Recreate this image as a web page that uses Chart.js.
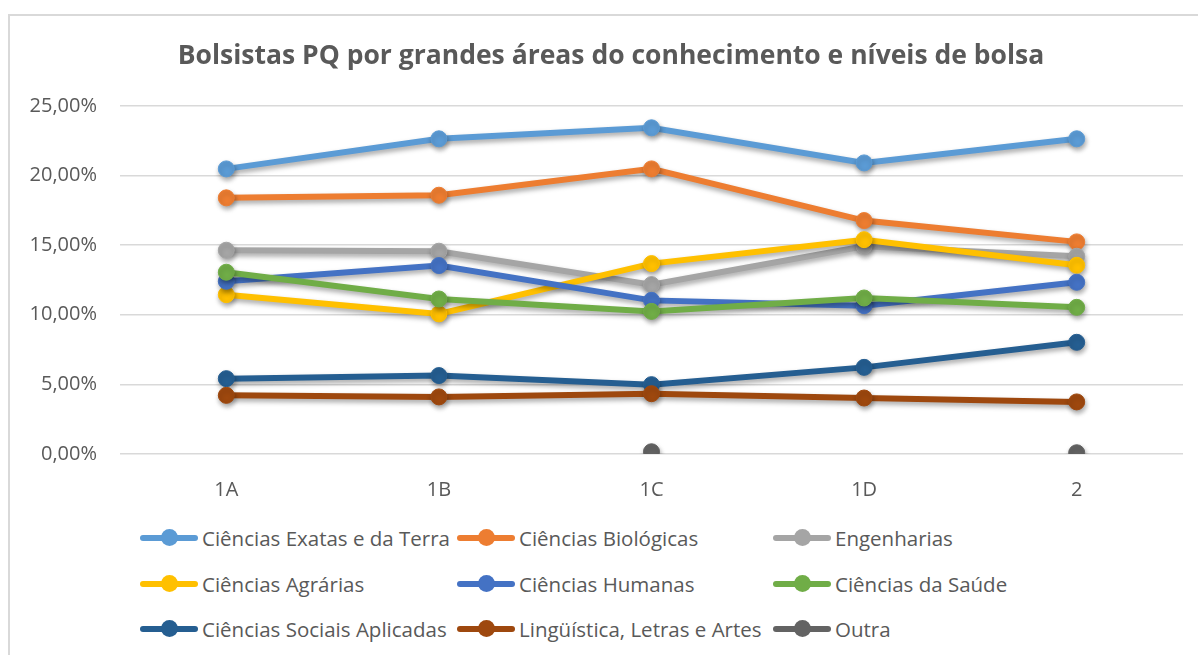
<!DOCTYPE html>
<html>
<head>
<meta charset="utf-8">
<script src="https://cdn.jsdelivr.net/npm/chart.js@4"></script>
<style>
  html, body { margin: 0; padding: 0; background: #fff; overflow: hidden; }
  #frame {
    position: absolute; left: 8px; top: 14px; width: 1200px; height: 660px;
    border-left: 2px solid #d9d9d9; border-top: 2px solid #d9d9d9;
  }
  #wrap { position: absolute; left: 0; top: 0; width: 1222px; height: 520px; }
  #legend {
    position: absolute; left: 140px; top: 522px;
    display: grid; grid-template-columns: 317px 316px 330px;
    grid-auto-rows: 45.5px;
    font-family: "Open Sans", sans-serif; font-size: 20.5px; color: #595959;
  }
  .item { display: flex; align-items: center; height: 32px; white-space: nowrap; }
  .mark { position: relative; width: 58px; height: 18px; margin-right: 4px; }
  .mark .ln { position: absolute; left: 0; right: 0; top: 6px; height: 6px; border-radius: 3px; }
  .mark .dt { position: absolute; left: 21px; top: 0; width: 17px; height: 17px; border-radius: 50%; }
</style>
</head>
<body>
<div id="frame"></div>
<div id="wrap"><canvas id="chart"></canvas></div>
<div id="legend"></div>
<script>
const levels = ['1A', '1B', '1C', '1D', '2'];

const exatas   = [20.47, 22.63, 23.42, 20.90, 22.63];
const biologicas = [18.39, 18.58, 20.47, 16.76, 15.23];
const engenharias = [14.63, 14.56, 12.16, 14.91, 14.20];
const agrarias = [11.44, 10.06, 13.67, 15.39, 13.55];
const humanas  = [12.40, 13.53, 11.03, 10.65, 12.33];
const saude    = [13.05, 11.13, 10.24, 11.20, 10.53];
const sociais  = [5.41, 5.63, 4.98, 6.22, 8.02];
const linguistica = [4.21, 4.10, 4.33, 4.02, 3.74];
const outra    = [null, null, 0.16, null, 0.09];

const seriesNames = [
  'Ciências Exatas e da Terra', 'Ciências Biológicas', 'Engenharias',
  'Ciências Agrárias', 'Ciências Humanas', 'Ciências da Saúde',
  'Ciências Sociais Aplicadas', 'Lingüística, Letras e Artes', 'Outra'
];
const seriesValues = [exatas, biologicas, engenharias, agrarias, humanas, saude, sociais, linguistica, outra];
const colors = ['#5B9BD5', '#ED7D31', '#A5A5A5', '#FFC000', '#4472C4', '#70AD47', '#255E91', '#9E480E', '#636363'];

const datasets = seriesNames.map((name, i) => ({
  label: name,
  data: seriesValues[i],
  borderColor: colors[i],
  backgroundColor: colors[i],
  pointBackgroundColor: colors[i],
  pointBorderColor: colors[i],
  borderWidth: 6,
  pointRadius: 8,
  pointBorderWidth: 1,
  tension: 0,
  spanGaps: false,
  order: seriesNames.length - i
}));

// soft drop shadow like the spreadsheet style
const shadow = {
  id: 'shadow',
  beforeDatasetsDraw(chart) {
    const ctx = chart.ctx;
    ctx.save();
    ctx.shadowColor = 'rgba(0,0,0,0.35)';
    ctx.shadowBlur = 5;
    ctx.shadowOffsetX = 1;
    ctx.shadowOffsetY = 3;
  },
  afterDatasetsDraw(chart) {
    chart.ctx.restore();
  }
};

const font = 'Open Sans';

const chart = new Chart(document.getElementById('chart'), {
  type: 'line',
  data: { labels: levels, datasets },
  plugins: [shadow],
  options: {
    responsive: true,
    maintainAspectRatio: false,
    animation: false,
    layout: { padding: { top: 41, right: 0, bottom: 6, left: 0 } },
    plugins: {
      legend: { display: false },
      tooltip: { enabled: false },
      title: {
        display: true,
        text: 'Bolsistas PQ por grandes áreas do conhecimento e níveis de bolsa',
        color: '#595959',
        font: { family: font, size: 26.5, weight: 'bold' },
        padding: { top: 0, bottom: 33 }
      }
    },
    scales: {
      x: {
        offset: true,
        afterFit(scale) { scale.height = 60; },
        grid: { display: false },
        border: { display: false },
        ticks: { color: '#595959', font: { family: font, size: 20 }, padding: 16 }
      },
      y: {
        min: 0, max: 25,
        afterFit(scale) { scale.width = 120; },
        grid: { color: '#d9d9d9', lineWidth: 1.5, drawTicks: false },
        border: { display: false },
        ticks: {
          stepSize: 5,
          padding: 23,
          color: '#595959',
          font: { family: font, size: 20 },
          callback: v => v.toFixed(2).replace('.', ',') + '%'
        }
      },
      // empty spacer on the right so the plot ends where the reference does
      spacer: {
        type: 'linear',
        position: 'right',
        afterFit(scale) { scale.width = 39; },
        grid: { display: false, drawTicks: false },
        border: { display: false },
        ticks: { display: false }
      }
    }
  }
});

// legend in three fixed columns
const legend = document.getElementById('legend');
seriesNames.forEach((name, i) => {
  const item = document.createElement('div');
  item.className = 'item';
  item.innerHTML = '<span class="mark"><span class="ln" style="background:' + colors[i] +
    '"></span><span class="dt" style="background:' + colors[i] + '"></span></span><span>' + name + '</span>';
  legend.appendChild(item);
});
</script>
</body>
</html>
